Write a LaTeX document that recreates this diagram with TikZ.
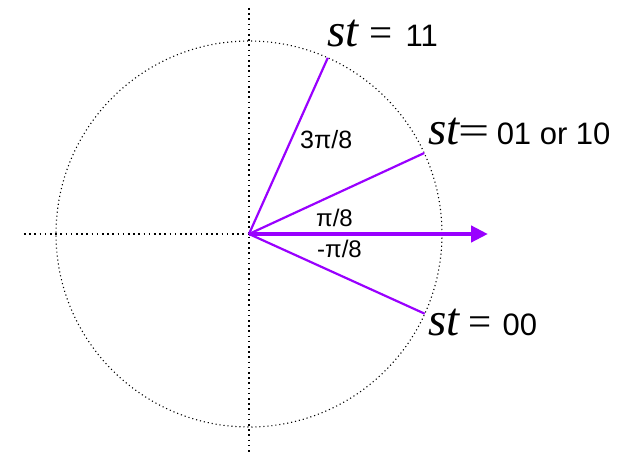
\documentclass[tikz,border=0pt]{standalone}
\usepackage{fontspec}
\usepackage{graphicx}
\setmainfont{Liberation Sans}
\newfontfamily\eqfont{Liberation Serif}
\usepackage{tikz}
\usetikzlibrary{arrows.meta, positioning, calc}

\definecolor{phasecol}{RGB}{153,0,255}

\begin{document}
\begin{tikzpicture}[
  x=1pt, y=1pt,
  axis/.style={
    black,
    line width=1.6pt,
    dash pattern=on 1.6pt off 3.6pt
  },
  unitcircle/.style={
    black,
    line width=1.1pt,
    dash pattern=on 1.1pt off 2.9pt
  },
  phase/.style={
    phasecol,
    line width=2.2pt
  },
  arrow/.style={
    phasecol,
    line width=4.6pt,
    -{Triangle[length=17pt, width=16pt]}
  },
  statelabel/.style={
    anchor=base west,
    inner sep=0pt,
    font=\fontsize{31}{31}\selectfont
  },
  anglelabel/.style={
    anchor=base west,
    inner sep=0pt,
    font=\fontsize{24}{24}\selectfont
  }
]
\useasboundingbox (-249,-219) rectangle (373,234);

% Axes and circle
\coordinate (O) at (0,0);
\coordinate (top) at (0,226);
\coordinate (bottom) at (0,-219);
\coordinate (left) at (-225,0);
\draw[unitcircle] (O) circle (193);
\draw[axis] (top) -- (bottom);
\draw[axis] (left) -- (O);

% Phase points on the circle
\coordinate (p11) at (65.9:193);
\coordinate (p01) at (24.8:193);
\coordinate (p00) at (-24.4:193);
\coordinate (tip) at (239,0);

\draw[phase] (O) -- (p11);
\draw[phase] (O) -- (p01);
\draw[phase] (O) -- (p00);
\draw[arrow] (O) -- (tip);

% Angle labels
\node[anglelabel, font=\fontsize{25}{25}\selectfont] (a3) at (51,86) {3π/8};
\node[anglelabel] (a1) at (67,8) {π/8};
\node[anglelabel] (am) at (68,-23) {-π/8};

% State labels
\node[statelabel] (s11) at (78,187)
  {{\eqfont\fontsize{47}{47}\selectfont\itshape st}\hspace{11pt}{\eqfont\fontsize{41}{41}\selectfont =}\hspace{13pt}11};
\node[statelabel] (s01) at (179,89)
  {{\eqfont\fontsize{47}{47}\selectfont\itshape st}\hspace{-1pt}{\eqfont\fontsize{41}{41}\selectfont\scalebox{1.35}[1]{=}}\hspace{7pt}01 or 10};
\node[statelabel] (s00) at (179,-101)
  {{\eqfont\fontsize{47}{47}\selectfont\itshape st}\hspace{9pt}{\eqfont\fontsize{41}{41}\selectfont =}\hspace{11pt}00};

\end{tikzpicture}
\end{document}
